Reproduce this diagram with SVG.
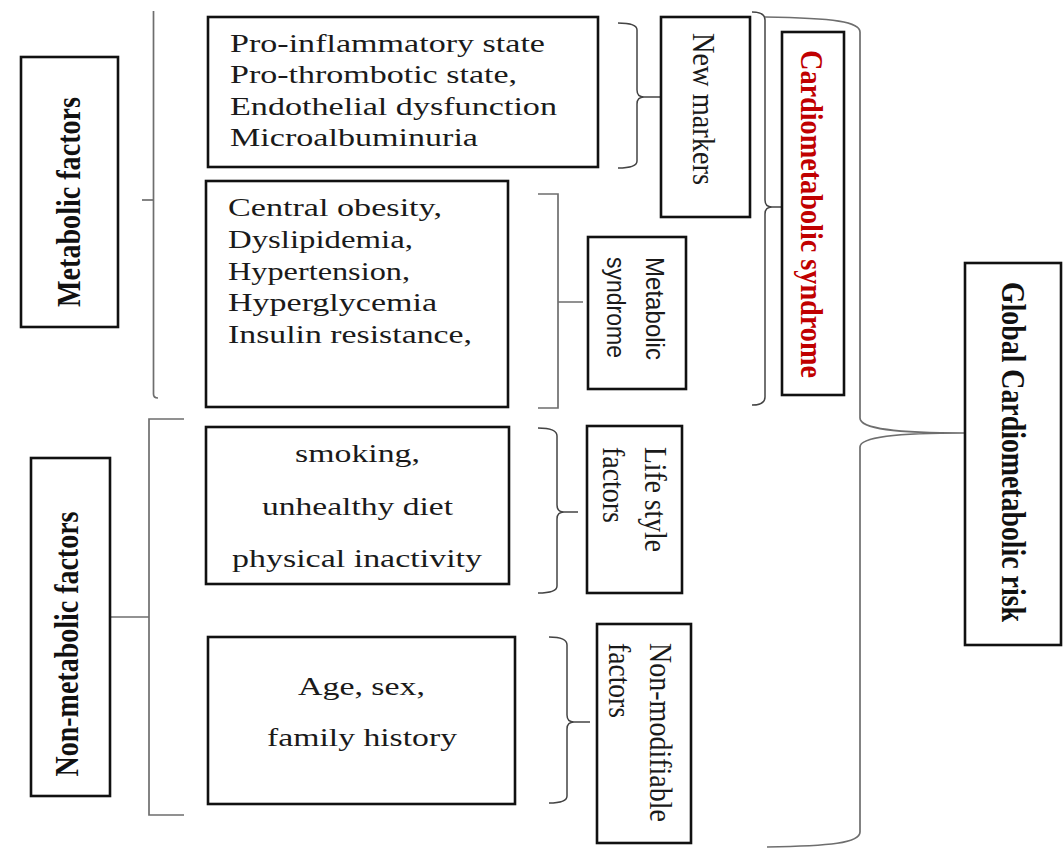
<svg xmlns="http://www.w3.org/2000/svg" width="1064" height="848" viewBox="0 0 1064 848">
<style>
.box{fill:#fff;stroke:#111;stroke-width:2.6}
.br{fill:none;stroke:#6e6e6e;stroke-width:1.7}
.br2{fill:none;stroke:#444;stroke-width:1.5}
.t{font-family:"Liberation Serif","Times New Roman",serif;font-size:26px;fill:#1a1a1a}
.v{font-family:"Liberation Serif","Times New Roman",serif;font-size:28px;fill:#1a1a1a}
.vb{font-family:"Liberation Serif","Times New Roman",serif;font-size:28px;font-weight:bold;fill:#111}
.red{fill:#c00000}
.s{font-family:"Liberation Sans",Arial,sans-serif;font-size:24px;fill:#1a1a1a}
</style>
<rect width="1064" height="848" fill="#fff"/>
<g id="connectors">
<path class="br" d="M153.5,11 V394 Q153.5,398 158,398"/>
<path class="br" d="M142,200 H153.5"/>
<path class="br" d="M184,419 H149 V815 H184"/>
<path class="br" d="M110,617 H149"/>
<path class="br2" d="M618,23 Q637,23 637,30 V90 Q637,97 644,97 H660 M644,97 Q637,97 637,104 V161 Q637,168 618,168"/>
<path class="br" d="M538,194 H558 V408 H538 M558,302 H583"/>
<path class="br2" d="M752,12 Q765,12 765,20 V200 Q765,207 772,207 H782 M772,207 Q765,207 765,214 V397 Q765,405 752,405"/>
<path class="br" d="M765,17 C835,18 860,22 860,32 V418 C860,429 895,433 965,433 C895,433 860,437 860,447 V832 C860,843 830,846 767,847"/>
<path class="br2" d="M538,428 Q557,428 557,436 V505 Q557,512 564,512 H578 M564,512 Q557,512 557,519 V586 Q557,593 538,593"/>
<path class="br2" d="M549,637 Q567,637 567,645 V715 Q567,722 574,722 H590 M574,722 Q567,722 567,729 V796 Q567,803 549,803"/>
</g>
<g id="metabolic-factors">
<rect class="box" x="21" y="57" width="97" height="270"/>
<text class="vb" text-anchor="middle" textLength="210" lengthAdjust="spacingAndGlyphs" transform="translate(80,202) rotate(-90) scale(1,1.2)">Metabolic factors</text>
</g>
<g id="non-metabolic-factors">
<rect class="box" x="31" y="458" width="79" height="338"/>
<text class="vb" text-anchor="middle" textLength="265" lengthAdjust="spacingAndGlyphs" transform="translate(78,644) rotate(-90) scale(1,1.2)">Non-metabolic factors</text>
</g>
<g id="new-markers-list">
<rect class="box" x="208" y="17" width="390" height="150"/>
<text class="t" textLength="252" lengthAdjust="spacingAndGlyphs" transform="translate(230,51.5) scale(1.25,1)">Pro-inflammatory state</text>
<text class="t" textLength="229.6" lengthAdjust="spacingAndGlyphs" transform="translate(230,83) scale(1.25,1)">Pro-thrombotic state,</text>
<text class="t" textLength="261.6" lengthAdjust="spacingAndGlyphs" transform="translate(230,114.5) scale(1.25,1)">Endothelial dysfunction</text>
<text class="t" textLength="198.4" lengthAdjust="spacingAndGlyphs" transform="translate(230,146) scale(1.25,1)">Microalbuminuria</text>
</g>
<g id="metabolic-syndrome-list">
<rect class="box" x="206" y="181" width="302" height="226"/>
<text class="t" textLength="171.2" lengthAdjust="spacingAndGlyphs" transform="translate(228,216) scale(1.25,1)">Central obesity,</text>
<text class="t" textLength="148" lengthAdjust="spacingAndGlyphs" transform="translate(228,248) scale(1.25,1)">Dyslipidemia,</text>
<text class="t" textLength="145.6" lengthAdjust="spacingAndGlyphs" transform="translate(228,280) scale(1.25,1)">Hypertension,</text>
<text class="t" textLength="167.2" lengthAdjust="spacingAndGlyphs" transform="translate(228,311) scale(1.25,1)">Hyperglycemia</text>
<text class="t" textLength="195.2" lengthAdjust="spacingAndGlyphs" transform="translate(228,343) scale(1.25,1)">Insulin resistance,</text>
</g>
<g id="lifestyle-list">
<rect class="box" x="206" y="427" width="303" height="157"/>
<text class="t" text-anchor="middle" textLength="100" lengthAdjust="spacingAndGlyphs" transform="translate(357.5,462) scale(1.25,1)">smoking,</text>
<text class="t" text-anchor="middle" textLength="152.8" lengthAdjust="spacingAndGlyphs" transform="translate(357.5,515) scale(1.25,1)">unhealthy diet</text>
<text class="t" text-anchor="middle" textLength="200" lengthAdjust="spacingAndGlyphs" transform="translate(357,567) scale(1.25,1)">physical inactivity</text>
</g>
<g id="non-modifiable-list">
<rect class="box" x="208" y="637" width="307" height="167"/>
<text class="t" text-anchor="middle" textLength="101.6" lengthAdjust="spacingAndGlyphs" transform="translate(361.5,695) scale(1.25,1)">Age, sex,</text>
<text class="t" text-anchor="middle" textLength="152" lengthAdjust="spacingAndGlyphs" transform="translate(362,746) scale(1.25,1)">family history</text>
</g>
<g id="new-markers">
<rect class="box" x="661" y="17" width="89" height="200"/>
<text class="v" textLength="152" lengthAdjust="spacingAndGlyphs" transform="translate(693,33) rotate(90) scale(1,1.12)">New markers</text>
</g>
<g id="metabolic-syndrome">
<rect class="box" x="588" y="237" width="98" height="152"/>
<text class="s" textLength="103" lengthAdjust="spacingAndGlyphs" transform="translate(646,257) rotate(90) scale(1,1.1)">Metabolic</text>
<text class="s" textLength="101" lengthAdjust="spacingAndGlyphs" transform="translate(607,257) rotate(90) scale(1,1.1)">syndrome</text>
</g>
<g id="life-style-factors">
<rect class="box" x="587" y="426" width="95" height="167"/>
<text class="v" textLength="105" lengthAdjust="spacingAndGlyphs" transform="translate(645,447) rotate(90) scale(1,1.1)">Life style</text>
<text class="v" textLength="76" lengthAdjust="spacingAndGlyphs" transform="translate(603,447) rotate(90) scale(1,1.1)">factors</text>
</g>
<g id="non-modifiable-factors">
<rect class="box" x="597" y="624" width="94" height="219"/>
<text class="v" textLength="179" lengthAdjust="spacingAndGlyphs" transform="translate(650,643) rotate(90) scale(1,1.1)">Non-modifiable</text>
<text class="v" textLength="75" lengthAdjust="spacingAndGlyphs" transform="translate(609,643) rotate(90) scale(1,1.1)">factors</text>
</g>
<g id="cardiometabolic-syndrome">
<rect class="box" x="782" y="32" width="62" height="363"/>
<text class="vb red" textLength="328" lengthAdjust="spacingAndGlyphs" transform="translate(801,50) rotate(90) scale(1,1.12)">Cardiometabolic syndrome</text>
</g>
<g id="global-cardiometabolic-risk">
<rect class="box" x="965" y="263" width="96" height="382"/>
<text class="vb" textLength="340" lengthAdjust="spacingAndGlyphs" transform="translate(1002,282) rotate(90) scale(1,1.2)">Global Cardiometabolic risk</text>
</g>
</svg>
